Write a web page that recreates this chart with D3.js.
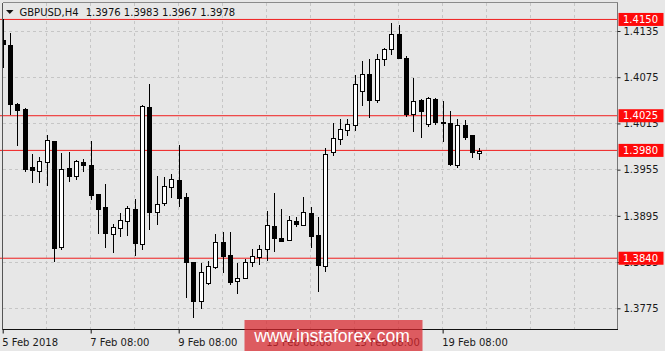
<!DOCTYPE html>
<html>
<head>
<meta charset="utf-8">
<script src="https://cdn.jsdelivr.net/npm/d3@7"></script>
<style>
body { margin: 0; background: #e7e7e7; }
text { font-family: "DejaVu Sans", sans-serif; }
</style>
</head>
<body>
<div id="chart"></div>
<script>
// GBPUSD H4, bars from 5 Feb 08:00 to 20 Feb 04:00
var symbol = "GBPUSD,H4";

var opens = [1.41224, 1.41160, 1.40402, 1.40334, 1.39580, 1.39523, 1.39640, 1.39913, 1.38536, 1.39567,
  1.39458, 1.39645, 1.39601, 1.39230, 1.39056, 1.38710, 1.38783, 1.38883, 1.39035, 1.38580,
  1.40360, 1.38991, 1.39113, 1.39315, 1.39415, 1.39191, 1.38341, 1.37835, 1.38074, 1.38276,
  1.38606, 1.38441, 1.38095, 1.38139, 1.38341, 1.38406, 1.38515, 1.38818, 1.38658, 1.38636,
  1.38883, 1.38822, 1.38983, 1.38701, 1.38289, 1.39770, 1.39944, 1.40052, 1.40121, 1.40562,
  1.40779, 1.40445, 1.40983, 1.41113, 1.41311, 1.40996, 1.40260, 1.40445, 1.40139, 1.40467,
  1.40160, 1.40152, 1.39601, 1.40121, 1.39987, 1.39760];

var highs = [1.41506, 1.41328, 1.40409, 1.40347, 1.39749, 1.39718, 1.40000, 1.39926, 1.39762, 1.39783,
  1.39675, 1.39684, 1.39926, 1.39234, 1.39363, 1.38844, 1.38983, 1.39078, 1.39169, 1.40389,
  1.40662, 1.39471, 1.39458, 1.39493, 1.39870, 1.39250, 1.38341, 1.38341, 1.38363, 1.38714,
  1.38736, 1.38736, 1.38334, 1.38386, 1.38523, 1.38571, 1.39013, 1.39243, 1.39035, 1.38948,
  1.38939, 1.39199, 1.39069, 1.38939, 1.39827, 1.40160, 1.40204, 1.40204, 1.40779, 1.40965,
  1.40983, 1.41048, 1.41126, 1.41450, 1.41428, 1.41026, 1.40736, 1.40463, 1.40489, 1.40476,
  1.40445, 1.40311, 1.40208, 1.40195, 1.39987, 1.39830];

var lows = [1.40870, 1.40260, 1.39857, 1.39523, 1.39373, 1.39373, 1.39341, 1.38347, 1.38506, 1.39393,
  1.39415, 1.39515, 1.39156, 1.38710, 1.38528, 1.38471, 1.38679, 1.38692, 1.38432, 1.38506,
  1.38766, 1.38831, 1.39078, 1.39178, 1.39061, 1.37879, 1.37619, 1.37740, 1.38052, 1.38256,
  1.38204, 1.38052, 1.37935, 1.38130, 1.38289, 1.38311, 1.38367, 1.38484, 1.38620, 1.38630,
  1.38801, 1.38820, 1.38528, 1.37965, 1.38224, 1.39727, 1.39870, 1.39987, 1.40052, 1.40376,
  1.40217, 1.40419, 1.40900, 1.41039, 1.40983, 1.40237, 1.40035, 1.39957, 1.40108, 1.40130,
  1.39913, 1.39601, 1.39575, 1.39935, 1.39697, 1.39670];

var closes = [1.41169, 1.40402, 1.40315, 1.39558, 1.39536, 1.39658, 1.39922, 1.38528, 1.39554, 1.39467,
  1.39662, 1.39610, 1.39208, 1.39039, 1.38723, 1.38796, 1.38892, 1.39048, 1.38593, 1.40376,
  1.38991, 1.39100, 1.39328, 1.39424, 1.39178, 1.38341, 1.37844, 1.38211, 1.38298, 1.38606,
  1.38419, 1.38087, 1.38139, 1.38347, 1.38419, 1.38515, 1.38831, 1.38658, 1.38623, 1.38896,
  1.38840, 1.38996, 1.38688, 1.38302, 1.39753, 1.39957, 1.40065, 1.40139, 1.40649, 1.40788,
  1.40454, 1.40983, 1.41113, 1.41311, 1.40996, 1.40260, 1.40432, 1.40302, 1.40476, 1.40160,
  1.40143, 1.39619, 1.40121, 1.39970, 1.39770, 1.39780];

var priceTicks = [1.3775, 1.3835, 1.3895, 1.3955, 1.4015, 1.4075, 1.4135];
var timeTickIndex = [0, 12, 24, 36, 48, 60];
var timeTickLabels = ["5 Feb 2018", "7 Feb 08:00", "9 Feb 08:00", "13 Feb 08:00", "15 Feb 08:00", "19 Feb 08:00"];
var levels = [1.4150, 1.4025, 1.3980, 1.3840];

const W = 665, H = 351;
const plot = { left: 2.5, right: 617.5, top: 2.5, bottom: 329.5 };

var svg = d3.select("#chart")
  .append("svg")
  .attr("width", W)
  .attr("height", H);

svg.append("rect").attr("width", W).attr("height", H).attr("fill", "#e7e7e7");

var x = d3.scaleLinear().domain([0, 65]).range([2.7, 479.3]);
var y = d3.scaleLinear().domain([1.3775, 1.4135]).range([308.3, 31]);

var fmt = d3.format(".4f");

// grid
var grid = svg.append("g")
  .attr("stroke", "#c6c6c6")
  .attr("stroke-dasharray", "3,3")
  .attr("shape-rendering", "crispEdges");

grid.selectAll(".hg")
  .data(priceTicks)
  .enter().append("line")
  .attr("x1", plot.left).attr("x2", plot.right)
  .attr("y1", d => y(d)).attr("y2", d => y(d));

grid.selectAll(".vg")
  .data(d3.range(6, 80, 6))
  .enter().append("line")
  .attr("x1", d => x(d)).attr("x2", d => x(d))
  .attr("y1", plot.top).attr("y2", plot.bottom);

// red levels
svg.append("g").selectAll("line")
  .data(levels)
  .enter().append("line")
  .attr("x1", 0).attr("x2", plot.right)
  .attr("y1", d => y(d)).attr("y2", d => y(d))
  .attr("stroke", "#f01e1e")
  .attr("stroke-width", 1);

// candles
svg.append("clipPath").attr("id", "clip")
  .append("rect")
  .attr("x", plot.left).attr("y", plot.top)
  .attr("width", plot.right - plot.left).attr("height", plot.bottom - plot.top);

var bars = d3.range(opens.length).map(function(i) {
  return { i: i, o: opens[i], h: highs[i], l: lows[i], c: closes[i] };
});

var cg = svg.append("g")
  .attr("clip-path", "url(#clip)")
  .attr("shape-rendering", "crispEdges");

var bw = 5;

cg.selectAll(".wick")
  .data(bars)
  .enter().append("line")
  .attr("x1", d => Math.round(x(d.i)) + 0.5)
  .attr("x2", d => Math.round(x(d.i)) + 0.5)
  .attr("y1", d => y(d.h))
  .attr("y2", d => y(d.l))
  .attr("stroke", "#000");

cg.selectAll(".body")
  .data(bars)
  .enter().append("rect")
  .attr("x", d => Math.round(x(d.i)) - 2 + 0.5)
  .attr("width", bw - 1)
  .attr("y", d => y(Math.max(d.o, d.c)))
  .attr("height", d => Math.max(1, Math.abs(y(d.o) - y(d.c))))
  .attr("fill", d => d.c >= d.o ? "#fff" : "#000")
  .attr("stroke", "#000");

// frame
var frame = svg.append("g").attr("shape-rendering", "crispEdges");
frame.append("line").attr("x1", plot.left).attr("x2", plot.right).attr("y1", plot.top).attr("y2", plot.top).attr("stroke", "#8a8a8a");
frame.append("line").attr("x1", plot.right).attr("x2", plot.right).attr("y1", plot.top).attr("y2", plot.bottom).attr("stroke", "#777");
frame.append("line").attr("x1", plot.left).attr("x2", plot.left).attr("y1", plot.top).attr("y2", plot.bottom).attr("stroke", "#555");
frame.append("line").attr("x1", plot.left).attr("x2", plot.right).attr("y1", plot.bottom).attr("y2", plot.bottom).attr("stroke", "#111");

// price axis
var yAxis = d3.axisRight(y).tickValues(priceTicks).tickSize(3).tickFormat(fmt);
var ya = svg.append("g")
  .attr("transform", "translate(" + plot.right + ",0)")
  .call(yAxis);
ya.select(".domain").remove();
ya.selectAll("line").attr("stroke", "#222");
ya.selectAll("text")
  .attr("x", 6)
  .attr("fill", "#1a1a1a")
  .style("font-size", "10px")
  .style("font-family", "DejaVu Sans");

// time axis
var xAxis = d3.axisBottom(x).tickValues(timeTickIndex).tickSize(4).tickFormat((d, i) => timeTickLabels[i]);
var xa = svg.append("g")
  .attr("transform", "translate(0," + plot.bottom + ")")
  .call(xAxis);
xa.select(".domain").remove();
xa.selectAll("line").attr("stroke", "#111");
xa.selectAll("text")
  .attr("text-anchor", "start")
  .attr("x", -1)
  .attr("y", 16)
  .attr("dy", 0)
  .attr("fill", "#1a1a1a")
  .style("font-size", "10px")
  .style("font-family", "DejaVu Sans");

// level labels
var lab = svg.append("g").selectAll("g")
  .data(levels)
  .enter().append("g");
lab.append("rect")
  .attr("x", 618.5).attr("width", 45)
  .attr("y", d => y(d) - 6.5).attr("height", 13)
  .attr("fill", "#ff0a0a");
lab.append("text")
  .attr("x", 623).attr("y", d => y(d))
  .attr("dy", "0.36em")
  .attr("fill", "#fff")
  .style("font-size", "10px")
  .text(d => fmt(d));

// header
var last = opens.length - 1;
svg.append("path")
  .attr("d", "M6,10 L13.5,10 L9.75,14 Z")
  .attr("fill", "#111");
svg.append("text")
  .attr("x", 19.5).attr("y", 16)
  .attr("fill", "#111")
  .style("font-size", "10px")
  .text(symbol);
svg.append("text")
  .attr("x", 85.7).attr("y", 16)
  .attr("fill", "#111")
  .style("font-size", "10px")
  .style("white-space", "pre")
  .text([opens[last], highs[last], lows[last], closes[last]].map(fmt).join(" "));

// watermark
svg.append("rect")
  .attr("x", 244.5).attr("y", 320)
  .attr("width", 178).attr("height", 32)
  .attr("fill", "#d9262c")
  .attr("opacity", 0.72);
svg.append("text")
  .attr("x", 332).attr("y", 342)
  .attr("text-anchor", "middle")
  .attr("fill", "#fff")
  .style("font-family", "Liberation Sans")
  .style("font-size", "17.5px")
  .text("www.instaforex.com");
</script>
</body>
</html>
